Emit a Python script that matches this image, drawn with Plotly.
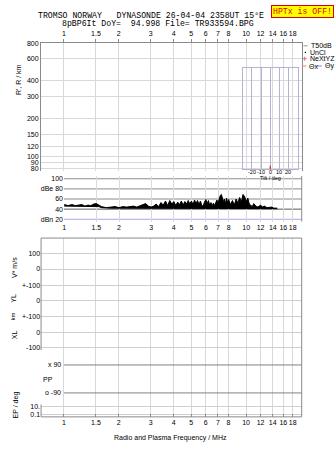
import plotly.graph_objects as go

W, H = 335, 451
def PX(x): return x / W
def PY(y): return 1 - y / H

# ---------------- data ----------------
title1 = "TROMSO NORWAY   DYNASONDE 26-04-04 2358UT 15°E"
title2 = "8pBP6It DoY=  94.998 File= TR933594.BPG"

freq_ticks = [1, 1.5, 2, 3, 4, 5, 6, 7, 8, 10, 12, 14, 16, 18]
freq_labels = ["1", "1.5", "2", "3", "4", "5", "6", "7", "8", "10", "12", "14", "16", "18"]
height_ticks = [80, 90, 100, 120, 150, 200, 300, 400, 600, 800]
amp_ticks = [20, 40, 60, 80, 100]
amp_labels = ["dBn 20", "40", "60", "dBe 80", "100"]
tilt_grid = [-30, -20, -10, 0, 10, 20, 30]
tilt_ticks = [-20, -10, 0, 10, 20]
lower_labels = ["100", "0", "+-100", "0", "+-100", "0", "-100", "10.", "0.1"]
pp_labels = ["x 90", "o -90"]

amp_freq = [1.00, 1.05, 1.10, 1.15, 1.20, 1.25, 1.30, 1.35, 1.40, 1.45, 1.50, 1.55,
            1.60, 1.70, 1.80, 1.90, 2.00, 2.10, 2.20, 2.30, 2.40, 2.50, 2.60, 2.70,
            2.80, 2.90, 3.00, 3.10, 3.20, 3.30, 3.40, 3.50, 3.60, 3.70, 3.80, 3.90,
            4.00, 4.10, 4.20, 4.30, 4.40, 4.50, 4.60, 4.70, 4.80, 4.90, 5.00, 5.10,
            5.20, 5.30, 5.40, 5.50, 5.60, 5.70, 5.80, 5.90, 6.00, 6.10, 6.20, 6.30,
            6.40, 6.50, 6.60, 6.70, 6.80, 6.90, 7.00, 7.10, 7.20, 7.30, 7.40, 7.50,
            7.60, 7.70, 7.80, 7.90, 8.00, 8.20, 8.40, 8.60, 8.80, 9.00, 9.20, 9.40,
            9.60, 9.80, 10.0, 10.2, 10.4, 10.6, 10.8, 11.0, 11.3, 11.6, 12.0, 12.3,
            12.6, 13.0, 13.4, 13.8, 14.2, 14.6, 14.8]
amp_hi = [49, 47, 49, 47, 48, 49, 46, 48, 47, 50, 51, 48,
          45, 43, 44, 45, 43, 45, 44, 45, 46, 44, 46, 48,
          51, 46, 44, 46, 50, 45, 53, 48, 56, 47, 57, 50,
          55, 47, 54, 49, 56, 48, 55, 50, 57, 50, 56, 49,
          58, 51, 57, 49, 56, 47, 46, 54, 59, 51, 57, 47,
          53, 46, 52, 47, 55, 58, 52, 62, 67, 69, 60, 55,
          60, 50, 62, 52, 59, 49, 57, 48, 60, 52, 63, 54,
          69, 65, 55, 62, 50, 48, 45, 51, 46, 44, 48, 44,
          46, 43, 43, 44, 42, 43, 42]
amp_lo = [46, 46, 46, 46, 45, 46, 45, 45, 46, 46, 45, 45,
          43, 42, 42, 42, 42, 42, 42, 42, 42, 42, 42, 42,
          42, 42, 41, 41, 41, 41, 41, 41, 41, 42, 41, 41,
          42, 41, 41, 41, 42, 41, 41, 41, 42, 41, 41, 41,
          42, 41, 41, 41, 41, 41, 41, 41, 42, 41, 41, 41,
          41, 41, 41, 41, 41, 41, 41, 41, 42, 42, 41, 41,
          41, 41, 41, 41, 41, 41, 41, 41, 41, 41, 41, 41,
          42, 41, 41, 41, 41, 41, 41, 41, 41, 41, 41, 41,
          41, 41, 41, 41, 41, 41, 41]

# ---------------- layout constants ----------------
FONT = "Liberation Sans"
MONO = "Liberation Mono"
GRID = "#d9d9d9"
FRAME = "#8a8a8a"
XL, XR = 39.3, 301.5
LOG_LO, LOG_HI = -0.125, 1.305
LOW_TOP, LOW_BOT = 236.7, 417.5
lower_pos = [16.0, 31.3, 47.6, 63.3, 79.0, 95.6, 110.6, 170.0, 178.3]
pp_pos = [128.3, 156.6]

fig = go.Figure()

# invisible trace so that the top (height) panel is drawn
fig.add_trace(go.Scatter(x=[freq_ticks[0]], y=[height_ticks[-1]], mode="markers",
                         marker=dict(opacity=0), xaxis="x", yaxis="y",
                         showlegend=False, hoverinfo="skip"))

# amplitude trace (filled between lo and hi)
fig.add_trace(go.Scatter(x=amp_freq, y=amp_lo, mode="lines",
                         line=dict(color="black", width=1), xaxis="x2", yaxis="y2",
                         showlegend=False, hoverinfo="skip"))
fig.add_trace(go.Scatter(x=amp_freq, y=amp_hi, mode="lines", fill="tonexty",
                         fillcolor="black", line=dict(color="black", width=1),
                         xaxis="x2", yaxis="y2", showlegend=False, hoverinfo="skip"))

# PP reference lines (from 1 MHz to right edge)
for p in pp_pos:
    fig.add_trace(go.Scatter(x=[1, 100], y=[p, p], mode="lines",
                             line=dict(color="#808080", width=1), xaxis="x3", yaxis="y3",
                             showlegend=False, hoverinfo="skip", cliponaxis=True))

# inset: red tick at 0 tilt
fig.add_trace(go.Scatter(x=[0, 0], y=[0, 0.035], mode="lines",
                         line=dict(color="#e00000", width=1), xaxis="x4", yaxis="y4",
                         showlegend=False, hoverinfo="skip"))

tickfont = dict(family=FONT, size=7, color="#000")

fig.update_layout(
    width=W, height=H, margin=dict(l=0, r=0, t=0, b=0),
    paper_bgcolor="white", plot_bgcolor="rgba(0,0,0,0)", showlegend=False,
    # top panel
    xaxis=dict(domain=[PX(XL), PX(XR)], type="log", range=[LOG_LO, LOG_HI],
               tickvals=freq_ticks, ticktext=freq_labels, side="top", anchor="y",
               ticks="outside", ticklen=3, tickcolor=FRAME, tickfont=tickfont, tickangle=0,
               showgrid=True, gridcolor=GRID, showline=True, linecolor=FRAME,
               zeroline=False),
    yaxis=dict(domain=[PY(169), PY(39.5)], type="log", range=[1.885, 2.9031],
               tickvals=height_ticks, ticktext=[str(v) for v in height_ticks],
               ticks="", tickfont=tickfont, showgrid=True, gridcolor=GRID,
               showline=True, mirror=True, linecolor=FRAME, zeroline=False, anchor="x"),
    # amplitude panel
    xaxis2=dict(domain=[PX(62.3), PX(XR)], type="log", range=[-0.002, LOG_HI],
                tickvals=freq_ticks, ticktext=freq_labels, side="bottom", anchor="y2",
                ticks="", tickfont=tickfont, tickangle=0, showgrid=True, gridcolor=GRID,
                showline=False, zeroline=False),
    yaxis2=dict(domain=[PY(220), PY(174)], range=[15.5, 105.3],
                tickvals=amp_ticks, ticktext=amp_labels, ticks="", tickfont=tickfont,
                showgrid=False, showline=False, zeroline=False, anchor="x2"),
    # lower panel
    xaxis3=dict(domain=[PX(XL), PX(XR)], type="log", range=[LOG_LO, LOG_HI],
                tickvals=freq_ticks, ticktext=freq_labels, side="bottom", anchor="y3",
                ticks="inside", ticklen=3, tickcolor=FRAME, tickfont=tickfont, tickangle=0,
                showgrid=True, gridcolor=GRID, showline=False, zeroline=False),
    yaxis3=dict(domain=[PY(LOW_BOT), PY(LOW_TOP)], range=[LOW_BOT - LOW_TOP, 0],
                tickvals=lower_pos, ticktext=lower_labels, ticks="", tickfont=tickfont,
                showgrid=True, gridcolor="#cfcfcf", showline=False, zeroline=False,
                anchor="x3"),
    # tilt inset
    xaxis4=dict(domain=[PX(242.3), PX(297.3)], range=[-30, 30], anchor="y4",
                tickvals=tilt_grid, showticklabels=False, ticks="",
                showgrid=True, gridcolor="#b4b4d2", showline=True, mirror=True,
                linecolor="#b4b4d2", zeroline=False),
    yaxis4=dict(domain=[PY(167), PY(64.7)], range=[0, 1], anchor="x4",
                showticklabels=False, ticks="", showgrid=False, showline=True,
                mirror=True, linecolor="#b4b4d2", zeroline=False),
)

shapes = []
amp_line_colors = {20: "#a8a8e6", 40: "#5a5a5a", 60: "#8c8c8c", 80: "#8c8c8c", 100: "#8c8c8c"}
for v in amp_ticks:
    shapes.append(dict(type="line", xref="x2 domain", yref="y2", x0=0, x1=1, y0=v, y1=v,
                       line=dict(color=amp_line_colors[v], width=1), layer="below"))
shapes.append(dict(type="line", xref="x2 domain", yref="y2 domain", x0=1, x1=1, y0=0, y1=1,
                   line=dict(color=FRAME, width=1)))
for (x0, y0, x1, y1) in [(0, 1, 1, 1), (0, 0, 1, 0), (1, 0, 1, 1),
                         (0, 1, 0, (LOW_BOT - 350) / (LOW_BOT - LOW_TOP)),
                         (0, (LOW_BOT - 405) / (LOW_BOT - LOW_TOP), 0, 0)]:
    shapes.append(dict(type="line", xref="x3 domain", yref="y3 domain",
                       x0=x0, y0=y0, x1=x1, y1=y1, line=dict(color=FRAME, width=1)))
shapes.append(dict(type="line", xref="paper", yref="paper", x0=PX(303.3), x1=PX(307.5),
                   y0=PY(42.3), y1=PY(42.3), line=dict(color="#999", width=1)))
shapes.append(dict(type="line", xref="paper", yref="paper", x0=PX(301.7), x1=PX(306.2),
                   y0=PY(62.7), y1=PY(62.7), line=dict(color="#f08080", width=1)))
shapes.append(dict(type="line", xref="paper", yref="paper", x0=PX(316.5), x1=PX(321.7),
                   y0=PY(62.7), y1=PY(62.7), line=dict(color="#8080f0", width=1)))
shapes.append(dict(type="line", xref="paper", yref="paper", x0=PX(302.5), x1=PX(306.5),
                   y0=PY(55.3), y1=PY(55.3), line=dict(color="#f06080", width=1)))
shapes.append(dict(type="line", xref="paper", yref="paper", x0=PX(304.5), x1=PX(304.5),
                   y0=PY(53.3), y1=PY(57.3), line=dict(color="#f06080", width=1)))
shapes.append(dict(type="rect", xref="paper", yref="paper", x0=PX(304.6), x1=PX(305.8),
                   y0=PY(49.6), y1=PY(48.4), line=dict(width=0), fillcolor="#000"))
fig.update_layout(shapes=shapes)

ann = []
def text(x, y, s, size=7, family=FONT, color="#000", xanchor="center", angle=0, **kw):
    ann.append(dict(x=PX(x), y=PY(y), xref="paper", yref="paper", text=s, showarrow=False,
                    xanchor=xanchor, yanchor="middle", textangle=angle,
                    font=dict(family=family, size=size, color=color), **kw))

text(150, 11.5, title1, size=8.2, family=MONO)
text(157, 19.8, title2, size=8.2, family=MONO)
text(302.5, 7.5, "HPTx is OFF!", size=8.2, family=MONO, color="#e00000",
     bgcolor="#ffff00", bordercolor="#e00000", borderwidth=1, borderpad=1)
text(309.3, 42.3, "T50dB", xanchor="left")
text(308.3, 49.0, "UnCl", xanchor="left")
text(307.5, 55.3, "NeXtYZ", xanchor="left")
text(307.0, 62.7, "Θx", xanchor="left")
text(322.8, 62.7, "Θy", xanchor="left")
# tilt inset tick labels (placed through the inset's x axis)
for t in tilt_ticks:
    ann.append(dict(x=t, y=PY(170.2), xref="x4", yref="paper", text=str(t),
                    showarrow=False, xanchor="center", yanchor="middle",
                    font=dict(family=FONT, size=5.5, color="#000")))
text(269.8, 176.2, "Tilt / deg", size=5.5)
text(16, 76, "R', R / km", angle=-90)
text(12, 266, "V* m/s", angle=-90)
text(12, 297, "YL", angle=-90)
text(12, 316, "km", angle=-90, size=6)
text(12, 334, "XL", angle=-90)
text(14, 405, "EP / deg", angle=-90)
text(46.5, 379.5, "PP")
for lab, p in zip(pp_labels, pp_pos):
    text(61, LOW_TOP + p, lab, xanchor="right")
text(170, 439, "Radio and Plasma Frequency / MHz")
fig.update_layout(annotations=ann)

fig.write_html("out.html")
